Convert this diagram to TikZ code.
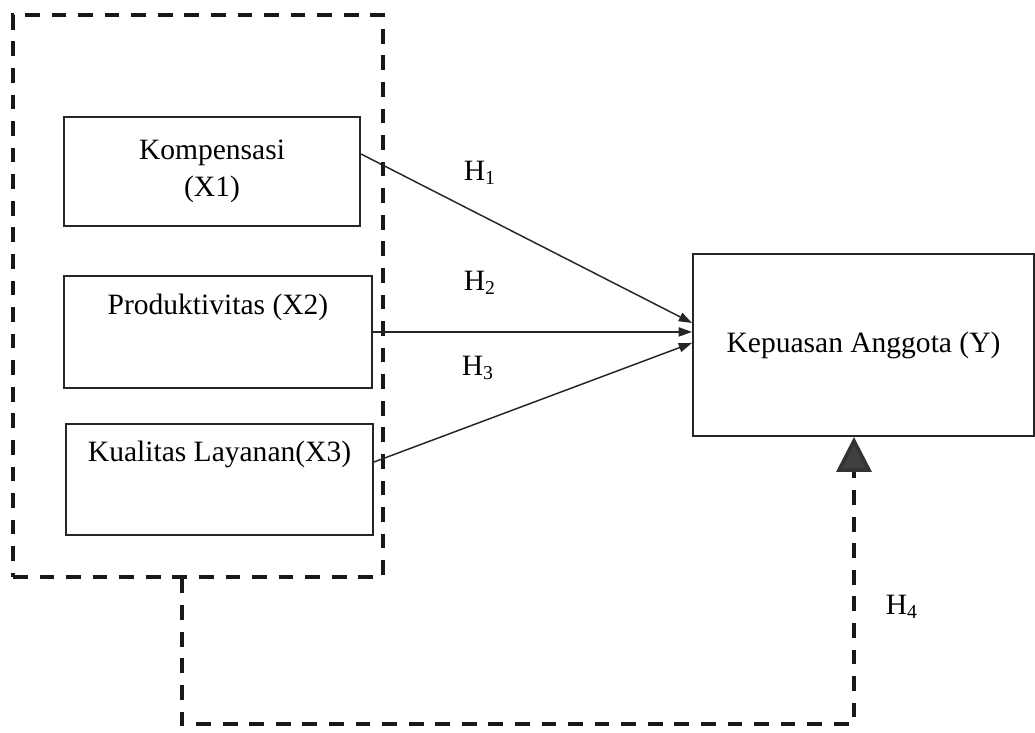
\documentclass[tikz,border=0pt]{standalone}
\usepackage{fontspec}
\setmainfont{Liberation Serif}
\usepackage{tikz}
\usetikzlibrary{calc}
\usetikzlibrary{arrows.meta}

\begin{document}
\begin{tikzpicture}[
  varbox/.style={draw=black!85, line width=0.8pt, align=center, inner sep=0pt, font=\fontsize{12}{15}\selectfont},
  grpbox/.style={draw=black!90, line width=1.4pt, dash pattern=on 6pt off 4.8pt},
  hyp/.style={draw=black!85, line width=0.6pt, -{Triangle[length=1.9mm, width=1.3mm]}},
  hlabel/.style={font=\fontsize{12}{15}\selectfont, inner sep=0pt}
]

% Frame
\useasboundingbox (0, 0) rectangle (14.786, 10.471);

% Dashed group
\node[grpbox, minimum width=5.286cm, minimum height=8.029cm] (grp) at (2.829, 6.243) {};

% Variables
\node[varbox, minimum width=4.229cm, minimum height=1.557cm] (x1) at (3.029, 8.021) {Kompensasi\\(X1)};
\node[varbox, minimum width=4.4cm, minimum height=1.6cm, text height=0.29cm, text depth=0.776cm] (x2) at (3.114, 5.729) {Produktivitas (X2)};
\node[varbox, minimum width=4.386cm, minimum height=1.586cm, text height=0.29cm, text depth=0.79cm] (x3) at (3.136, 3.621) {Kualitas Layanan(X3)};
\node[varbox, minimum width=4.871cm, minimum height=2.6cm] (y) at (12.336, 5.543) {Kepuasan Anggota (Y)};

% Hypotheses
\draw[hyp] ([yshift=0.25cm]x1.east) -- ([yshift=0.314cm]y.west);
\draw[hyp] (x2.east) -- ([yshift=0.186cm]y.west);
\draw[hyp] ([yshift=0.25cm]x3.east) -- ([yshift=0.029cm]y.west);

\node[hlabel] (h1) at (6.857, 8.0) {H\textsubscript{1}};
\node[hlabel] (h2) at (6.857, 6.429) {H\textsubscript{2}};
\node[hlabel] (h3) at (6.829, 5.214) {H\textsubscript{3}};

% Simultaneous path
\coordinate (bl) at (2.6, 0.129);
\coordinate (br) at (12.2, 0.129);
\draw[grpbox, -{Triangle[length=5mm, width=5mm, fill=black!75, color=black!80]}] (grp.south -| bl) -- (bl) -- (br) -- (br |- y.south);
\node[hlabel] (h4) at (12.886, 1.8) {H\textsubscript{4}};

\end{tikzpicture}
\end{document}
